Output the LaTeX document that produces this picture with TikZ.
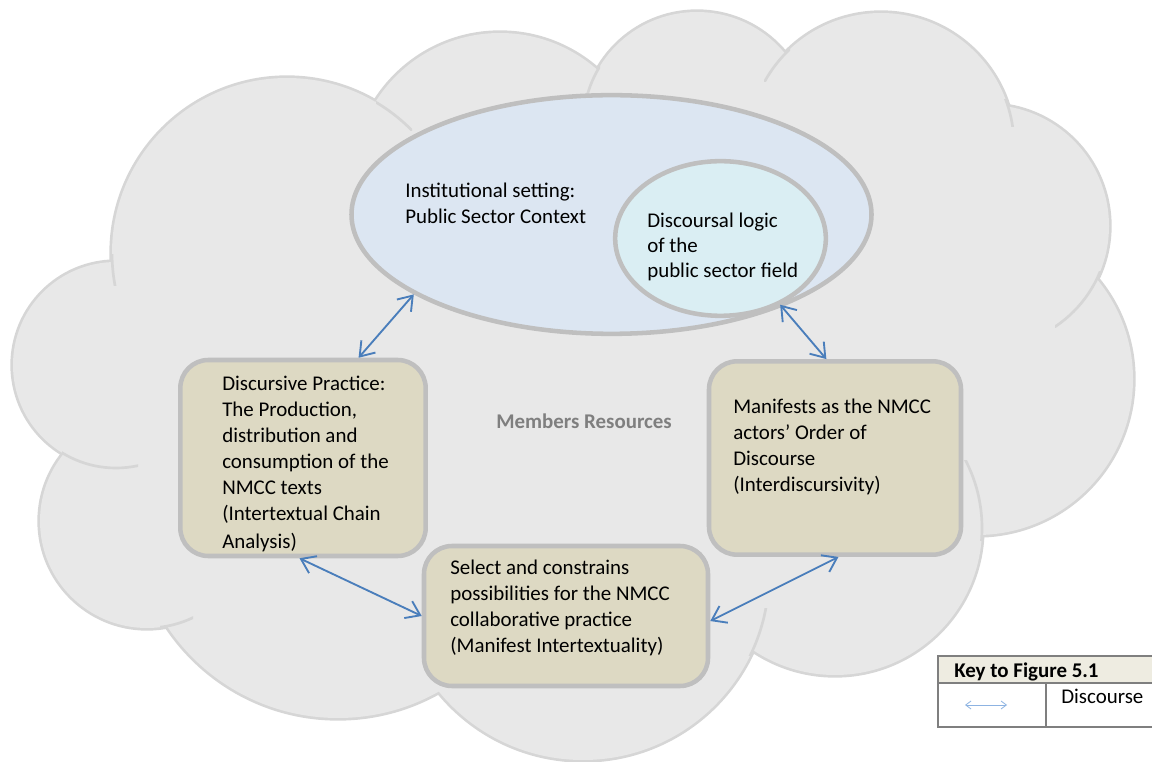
\documentclass[tikz,border=0pt]{standalone}
\usepackage{fontspec}
\setmainfont{Carlito}
\usetikzlibrary{arrows.meta,shapes.geometric}

\definecolor{cloudfill}{HTML}{E8E8E8}
\definecolor{cloudline}{HTML}{D6D6D6}
\definecolor{ringline}{HTML}{BFBFBF}
\definecolor{outerfill}{HTML}{DCE6F2}
\definecolor{innerfill}{HTML}{DAEEF3}
\definecolor{boxfill}{HTML}{DDD9C3}
\definecolor{linkblue}{HTML}{4A7EBB}
\definecolor{keyblue}{HTML}{8DB3E2}
\definecolor{keyhead}{HTML}{EEECE1}
\definecolor{keyline}{HTML}{7F7F7F}
\definecolor{resgray}{HTML}{7F7F7F}

\begin{document}
\begin{tikzpicture}[x=0.75pt,y=-0.75pt,
  % multi-line text nodes are placed by the baseline of their last line
  body/.style={font=\fontsize{15.7}{19.5}\selectfont, align=left, anchor=base west, inner sep=0pt},
  ring/.style={ellipse, draw=ringline, line width=3.4pt, inner sep=0pt},
  panel/.style={rectangle, rounded corners=21pt, draw=ringline, fill=boxfill, line width=3.4pt, inner sep=0pt},
  link/.style={draw=linkblue, line width=1.4pt,
    arrows={Straight Barb[length=10pt,width=14pt]-Straight Barb[length=10pt,width=14pt]}},
  keyarrow/.style={draw=keyblue, line width=0.6pt,
    arrows={Straight Barb[length=4pt,width=6pt]-Straight Barb[length=4pt,width=6pt]}},
  keycell/.style={rectangle, draw=keyline, line width=1.5pt, inner sep=0pt},
]
\useasboundingbox (0,0) rectangle (1152,762);
\clip (0,0) rectangle (1152,762);

% ---- cloud: outlined lobes, then the interior filled over the inner strokes
\def\lobes{287/253/175, 500/180/147, 697/126/114, 881/146/133, 988/226/121,
  977/379/156, 835/528/147, 583/574/186, 338/513/205, 147/521/107, 116/365/103}
\foreach \cx/\cy/\r in \lobes
  \draw[draw=cloudline, fill=cloudfill, line width=4pt] (\cx,\cy) circle[radius=\r];
\fill[cloudfill] (287,253) -- (500,180) -- (697,126) -- (881,146) -- (988,226)
  -- (977,379) -- (835,528) -- (583,574) -- (338,513) -- (147,521) -- (116,365) -- cycle;
\foreach \cx/\cy/\r in \lobes
  \fill[cloudfill] (\cx,\cy) circle[radius=\r];

% short inner arcs where one lobe runs on past its neighbour
\foreach \cx/\cy/\r/\xa/\ya/\xb/\yb in {
  287/253/175/100/255/135/286,
  287/253/175/376/95/412/131,
  116/365/103/62/440/138/472,
  147/521/107/160/610/193/632,
  583/574/186/745/608/772/655,
  835/528/147/955/460/990/540,
  988/226/121/1055/272/1105/328,
  881/146/133/995/100/1016/127,
  697/126/114/584/66/600/96,
  881/146/133/764/50/790/82}
{
  \begin{scope}
    \clip (\xa,\ya) rectangle (\xb,\yb);
    \draw[cloudline, line width=2pt] (\cx,\cy) circle[radius=\r];
  \end{scope}
}

% ---- institutional setting and its field
\node[ring, fill=outerfill, minimum width=390pt, minimum height=179pt] (inst) at (611.5,214.5) {};
\node[ring, fill=innerfill, minimum width=158pt, minimum height=116pt] (disc) at (720.5,238.5) {};
\node[body] (insttext) at (405,224) {Institutional setting:\\Public Sector Context};
\node[body, font=\fontsize{15.7}{18.8}\selectfont] (disctext) at (647,278) {Discoursal logic\\of the\\public sector field};

% ---- practice panels
\node[panel, minimum width=184pt, minimum height=147pt] (dp) at (303,458) {};
\node[panel, minimum width=189pt, minimum height=145pt] (mo) at (835,458) {};
\node[panel, minimum width=213pt, minimum height=105pt] (sel) at (566,616) {};

\node[body] (dptext) at (222,548) {Discursive Practice:\\The Production,\\distribution and\\consumption of the\\NMCC texts\\(Intertextual Chain\\[1.5pt]Analysis)};
\node[body] (motext) at (733,491) {Manifests as the NMCC\\actors’ Order of\\Discourse\\(Interdiscursivity)};
\node[body] (seltext) at (450,652) {Select and constrains\\possibilities for the NMCC\\collaborative practice\\(Manifest Intertextuality)};

\node[font=\fontsize{15.7}{19.5}\selectfont\bfseries, text=resgray, anchor=base west, inner sep=0pt]
  (members) at (496,428) {Members Resources};

% ---- discourse links
\draw[link] (inst.202) -- (dp.61);
\draw[link] (disc.-48) -- (mo.95);
\draw[link] (dp.268) -- (sel.180);
\draw[link] (sel.-2) -- (mo.-88);

% ---- key
\node[keycell, fill=keyhead, minimum width=174pt, minimum height=20.25pt] (keyhd) at (1054,669.5) {};
\node[keycell, fill=white, minimum width=81pt, minimum height=33pt] (keysym) at (992,705) {};
\node[keycell, fill=white, minimum width=93pt, minimum height=33pt] (keytxt) at (1108,705) {};
\node[body, font=\fontsize{15.7}{19.5}\selectfont\bfseries] (keytitle) at (954,677) {Key to Figure 5.1};
\node[body] (keyword) at (1061,703) {Discourse};
\coordinate (ka) at (965,705);
\coordinate (kb) at (1007,705);
\draw[keyarrow] (ka) -- (kb);
\end{tikzpicture}
\end{document}
